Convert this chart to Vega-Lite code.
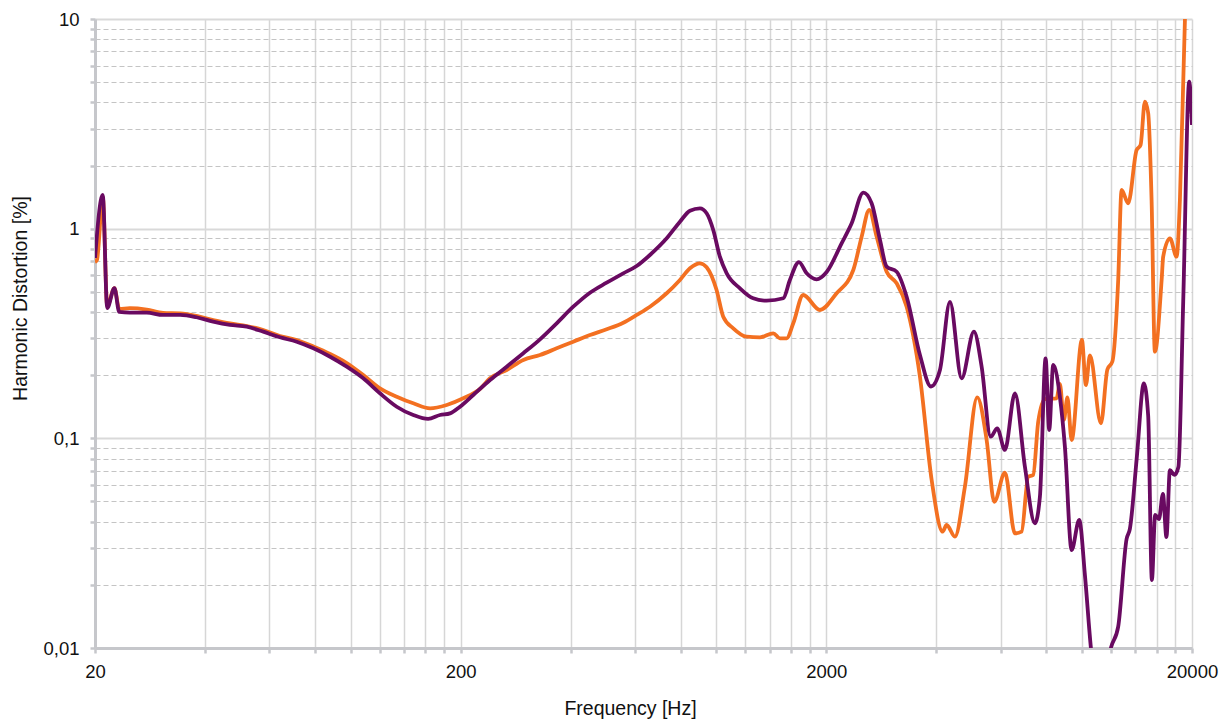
{
  "$schema": "https://vega.github.io/schema/vega-lite/v6.json",
  "width": 1097,
  "height": 629,
  "autosize": {"type": "none"},
  "padding": {"left": 95, "top": 19, "right": 37, "bottom": 74},
  "background": "white",
  "config": {"view": {"stroke": null}, "font": "Liberation Sans"},
  "data": {"values": [
    {"s":"P","f":20,"v":0.725},{"s":"P","f":21.0,"v":1.447},{"s":"P","f":21.6,"v":0.418},{"s":"P","f":22.6,"v":0.521},
    {"s":"P","f":23.3,"v":0.4005},{"s":"P","f":24.9,"v":0.3975},{"s":"P","f":27.7,"v":0.3975},{"s":"P","f":30.7,"v":0.3876},
    {"s":"P","f":34.2,"v":0.3876},{"s":"P","f":37.9,"v":0.378},{"s":"P","f":42.1,"v":0.36},{"s":"P","f":46.8,"v":0.3472},
    {"s":"P","f":52.0,"v":0.3408},{"s":"P","f":57.7,"v":0.3226},{"s":"P","f":64.1,"v":0.3033},{"s":"P","f":71.2,"v":0.289},
    {"s":"P","f":79.1,"v":0.2687},{"s":"P","f":87.9,"v":0.245},{"s":"P","f":97.6,"v":0.2196},{"s":"P","f":108.3,"v":0.1933},
    {"s":"P","f":120.3,"v":0.164},{"s":"P","f":133.7,"v":0.1415},{"s":"P","f":148.4,"v":0.1292},{"s":"P","f":162.9,"v":0.1237},
    {"s":"P","f":175.6,"v":0.1292},{"s":"P","f":187.0,"v":0.1316},{"s":"P","f":199.1,"v":0.1415},{"s":"P","f":216.5,"v":0.1609},
    {"s":"P","f":240.6,"v":0.1897},{"s":"P","f":267.2,"v":0.2196},{"s":"P","f":296.7,"v":0.2545},{"s":"P","f":329.6,"v":0.2967},
    {"s":"P","f":366.1,"v":0.3538},{"s":"P","f":406.4,"v":0.4244},{"s":"P","f":451.5,"v":0.4951},{"s":"P","f":501.5,"v":0.5525},
    {"s":"P","f":556.8,"v":0.6124},{"s":"P","f":605.8,"v":0.6637},{"s":"P","f":658.6,"v":0.749},{"s":"P","f":731.9,"v":0.8996},
    {"s":"P","f":795.6,"v":1.0796},{"s":"P","f":847.4,"v":1.218},{"s":"P","f":902.4,"v":1.25},{"s":"P","f":941.2,"v":1.184},
    {"s":"P","f":981.2,"v":0.9855},{"s":"P","f":1023,"v":0.7352},{"s":"P","f":1068,"v":0.6124},{"s":"P","f":1161,"v":0.5193},
    {"s":"P","f":1262,"v":0.4655},{"s":"P","f":1373,"v":0.4533},{"s":"P","f":1525,"v":0.4655},{"s":"P","f":1590,"v":0.5692},
    {"s":"P","f":1683,"v":0.693},{"s":"P","f":1767,"v":0.6124},{"s":"P","f":1881,"v":0.5736},{"s":"P","f":2004,"v":0.6212},
    {"s":"P","f":2202,"v":0.8515},{"s":"P","f":2346,"v":1.0607},{"s":"P","f":2524,"v":1.485},{"s":"P","f":2660,"v":1.3219},
    {"s":"P","f":2804,"v":0.883},{"s":"P","f":2924,"v":0.6586},{"s":"P","f":3114,"v":0.6232},{"s":"P","f":3316,"v":0.4738},
    {"s":"P","f":3606,"v":0.2497},{"s":"P","f":3864,"v":0.1767},{"s":"P","f":4090,"v":0.2118},{"s":"P","f":4356,"v":0.4469},
    {"s":"P","f":4688,"v":0.1933},{"s":"P","f":5066,"v":0.3226},{"s":"P","f":5318,"v":0.2196},{"s":"P","f":5628,"v":0.1018},
    {"s":"P","f":5866,"v":0.1116},{"s":"P","f":6158,"v":0.088},{"s":"P","f":6558,"v":0.164},{"s":"P","f":6984,"v":0.0732},
    {"s":"P","f":7438,"v":0.0393},{"s":"P","f":7676,"v":0.0527},{"s":"P","f":7956,"v":0.2408},{"s":"P","f":8138,"v":0.1096},
    {"s":"P","f":8346,"v":0.2237},{"s":"P","f":8704,"v":0.158},{"s":"P","f":8984,"v":0.0912},{"s":"P","f":9372,"v":0.0293},
    {"s":"P","f":9830,"v":0.0408},{"s":"P","f":10190,"v":0.0223},{"s":"P","f":10582,"v":0.01},{"s":"P","f":11200,"v":0.005},
    {"s":"P","f":12000,"v":0.01},{"s":"P","f":12566,"v":0.01264},{"s":"P","f":13248,"v":0.0331},{"s":"P","f":13526,"v":0.037},
    {"s":"P","f":14124,"v":0.0806},{"s":"P","f":14772,"v":0.183},{"s":"P","f":15178,"v":0.1278},{"s":"P","f":15536,"v":0.0211},
    {"s":"P","f":15858,"v":0.0431},{"s":"P","f":16242,"v":0.0412},{"s":"P","f":16656,"v":0.0543},{"s":"P","f":17026,"v":0.0338},
    {"s":"P","f":17404,"v":0.0706},{"s":"P","f":17904,"v":0.0669},{"s":"P","f":18360,"v":0.073},{"s":"P","f":18924,"v":0.45},
    {"s":"P","f":19652,"v":5.025},{"s":"P","f":20000,"v":3.125},
    {"s":"O","f":20,"v":0.693},{"s":"O","f":20.25,"v":0.709},{"s":"O","f":21.0,"v":1.416},{"s":"O","f":21.6,"v":0.428},
    {"s":"O","f":22.6,"v":0.521},{"s":"O","f":23.3,"v":0.4137},{"s":"O","f":24.9,"v":0.418},{"s":"O","f":27.7,"v":0.4114},
    {"s":"O","f":30.7,"v":0.3962},{"s":"O","f":34.2,"v":0.394},{"s":"O","f":37.9,"v":0.3834},{"s":"O","f":42.1,"v":0.3668},
    {"s":"O","f":46.8,"v":0.353},{"s":"O","f":52.0,"v":0.3434},{"s":"O","f":57.7,"v":0.3287},{"s":"O","f":64.1,"v":0.3077},
    {"s":"O","f":71.2,"v":0.2944},{"s":"O","f":79.1,"v":0.2741},{"s":"O","f":87.9,"v":0.2525},{"s":"O","f":97.6,"v":0.2287},
    {"s":"O","f":108.3,"v":0.2004},{"s":"O","f":120.3,"v":0.1732},{"s":"O","f":133.7,"v":0.158},{"s":"O","f":148.4,"v":0.1469},
    {"s":"O","f":165.0,"v":0.139},{"s":"O","f":183.2,"v":0.1442},{"s":"O","f":203.3,"v":0.1552},{"s":"O","f":225.8,"v":0.1719},
    {"s":"O","f":240.6,"v":0.1933},{"s":"O","f":267.2,"v":0.2118},{"s":"O","f":296.7,"v":0.2363},{"s":"O","f":329.6,"v":0.2497},
    {"s":"O","f":366.1,"v":0.2687},{"s":"O","f":406.4,"v":0.289},{"s":"O","f":451.5,"v":0.3111},{"s":"O","f":501.5,"v":0.3312},
    {"s":"O","f":556.8,"v":0.3561},{"s":"O","f":605.8,"v":0.3876},{"s":"O","f":658.6,"v":0.4244},{"s":"O","f":731.9,"v":0.4919},
    {"s":"O","f":795.6,"v":0.5692},{"s":"O","f":847.4,"v":0.6471},{"s":"O","f":902.4,"v":0.6837},{"s":"O","f":941.2,"v":0.6543},
    {"s":"O","f":1002,"v":0.5098},{"s":"O","f":1045,"v":0.3804},{"s":"O","f":1113,"v":0.3348},{"s":"O","f":1211,"v":0.3053},
    {"s":"O","f":1317,"v":0.3033},{"s":"O","f":1432,"v":0.317},{"s":"O","f":1493,"v":0.3},{"s":"O","f":1558,"v":0.3},
    {"s":"O","f":1624,"v":0.3538},{"s":"O","f":1729,"v":0.4827},{"s":"O","f":1921,"v":0.4093},{"s":"O","f":2134,"v":0.4919},
    {"s":"O","f":2370,"v":0.6351},{"s":"O","f":2498,"v":0.9156},{"s":"O","f":2620,"v":1.2278},{"s":"O","f":2746,"v":0.9156},
    {"s":"O","f":2924,"v":0.6232},{"s":"O","f":3114,"v":0.5489},{"s":"O","f":3316,"v":0.4244},{"s":"O","f":3606,"v":0.1968},
    {"s":"O","f":3882,"v":0.0633},{"s":"O","f":4160,"v":0.0359},{"s":"O","f":4266,"v":0.0386},{"s":"O","f":4494,"v":0.034},
    {"s":"O","f":4786,"v":0.0588},{"s":"O","f":5172,"v":0.1569},{"s":"O","f":5488,"v":0.0982},{"s":"O","f":5758,"v":0.0498},
    {"s":"O","f":6158,"v":0.0686},{"s":"O","f":6558,"v":0.0352},{"s":"O","f":6840,"v":0.0359},{"s":"O","f":7130,"v":0.0656},
    {"s":"O","f":7358,"v":0.0669},{"s":"O","f":7594,"v":0.1201},{"s":"O","f":7922,"v":0.154},{"s":"O","f":8526,"v":0.1552},
    {"s":"O","f":8704,"v":0.1816},{"s":"O","f":8926,"v":0.1224},{"s":"O","f":9126,"v":0.1566},{"s":"O","f":9372,"v":0.0982},
    {"s":"O","f":10000,"v":0.2944},{"s":"O","f":10254,"v":0.1796},{"s":"O","f":10516,"v":0.2484},{"s":"O","f":11272,"v":0.118},
    {"s":"O","f":11738,"v":0.213},{"s":"O","f":12114,"v":0.2324},{"s":"O","f":12566,"v":0.5692},{"s":"O","f":12838,"v":1.529},
    {"s":"O","f":13382,"v":1.3219},{"s":"O","f":14110,"v":2.371},{"s":"O","f":14468,"v":2.506},{"s":"O","f":14866,"v":4.033},
    {"s":"O","f":15178,"v":3.549},{"s":"O","f":15506,"v":1.37},{"s":"O","f":15832,"v":0.259},{"s":"O","f":16520,"v":0.5692},
    {"s":"O","f":16682,"v":0.7352},{"s":"O","f":17404,"v":0.8996},{"s":"O","f":18154,"v":0.7352},{"s":"O","f":18534,"v":1.37},
    {"s":"O","f":19128,"v":9.89},{"s":"O","f":19492,"v":24}
  ]},
  "encoding": {
    "x": {
      "field": "f", "type": "quantitative",
      "scale": {"type": "log", "domain": [20, 20000], "nice": false},
      "title": "Frequency [Hz]",
      "axis": {
        "values": [20,40,60,80,100,120,140,160,180,200,400,600,800,1000,1200,1400,1600,1800,2000,4000,6000,8000,10000,12000,14000,16000,18000,20000],
        "labelExpr": "datum.value == 20 || datum.value == 200 || datum.value == 2000 || datum.value == 20000 ? format(datum.value, 'd') : ''",
        "labelOverlap": false, "labelFlush": false,
        "grid": true, "gridColor": "#d6d6d6", "gridWidth": 1.5,
        "domainColor": "#c6c7cb", "domainWidth": 3,
        "tickColor": "#c6c7cb", "tickWidth": 2.5, "tickSize": 5,
        "labelFont": "Liberation Sans", "labelFontSize": 18.5, "labelColor": "#111111", "labelPadding": 9,
        "titleFont": "Liberation Sans", "titleFontSize": 19.5, "titleFontWeight": "normal", "titleColor": "#111111", "titlePadding": 19,
        "titleX": 535, "titleAlign": "center"
      }
    },
    "y": {
      "field": "v", "type": "quantitative",
      "scale": {"type": "log", "domain": [0.01, 10], "nice": false},
      "title": "Harmonic Distortion [%]",
      "axis": {
        "values": [0.01,0.02,0.03,0.04,0.05,0.06,0.07,0.08,0.09,0.1,0.2,0.3,0.4,0.5,0.6,0.7,0.8,0.9,1,2,3,4,5,6,7,8,9,10],
        "labelExpr": "datum.value == 10 ? '10' : datum.value == 1 ? '1' : datum.value == 0.1 ? '0,1' : datum.value == 0.01 ? '0,01' : ''",
        "labelOverlap": false, "labelFlush": false,
        "grid": true,
        "gridDash": {"condition": {"test": "datum.value == 0.01 || datum.value == 0.1 || datum.value == 1 || datum.value == 10", "value": []}, "value": [5, 3]},
        "gridColor": {"condition": {"test": "datum.value == 0.01 || datum.value == 0.1 || datum.value == 1 || datum.value == 10", "value": "#d9d9d9"}, "value": "#c4c4c4"},
        "gridWidth": {"condition": {"test": "datum.value == 0.01 || datum.value == 0.1 || datum.value == 1 || datum.value == 10", "value": 2}, "value": 1},
        "domainColor": "#c6c7cb", "domainWidth": 3,
        "tickColor": "#c6c7cb", "tickWidth": 2.5, "tickSize": 5,
        "labelFont": "Liberation Sans", "labelFontSize": 18.5, "labelColor": "#111111", "labelPadding": 11,
        "titleFont": "Liberation Sans", "titleFontSize": 19.5, "titleFontWeight": "normal", "titleColor": "#111111", "titlePadding": 12,
        "titleY": 279, "titleAlign": "center"
      }
    }
  },
  "layer": [
    {
      "transform": [{"filter": "datum.s === 'O'"}],
      "mark": {"type": "line", "color": "#f37021", "strokeWidth": 3.8, "interpolate": "monotone", "clip": true}
    },
    {
      "transform": [{"filter": "datum.s === 'P'"}],
      "mark": {"type": "line", "color": "#690a61", "strokeWidth": 3.8, "interpolate": "monotone", "clip": true}
    }
  ]
}
